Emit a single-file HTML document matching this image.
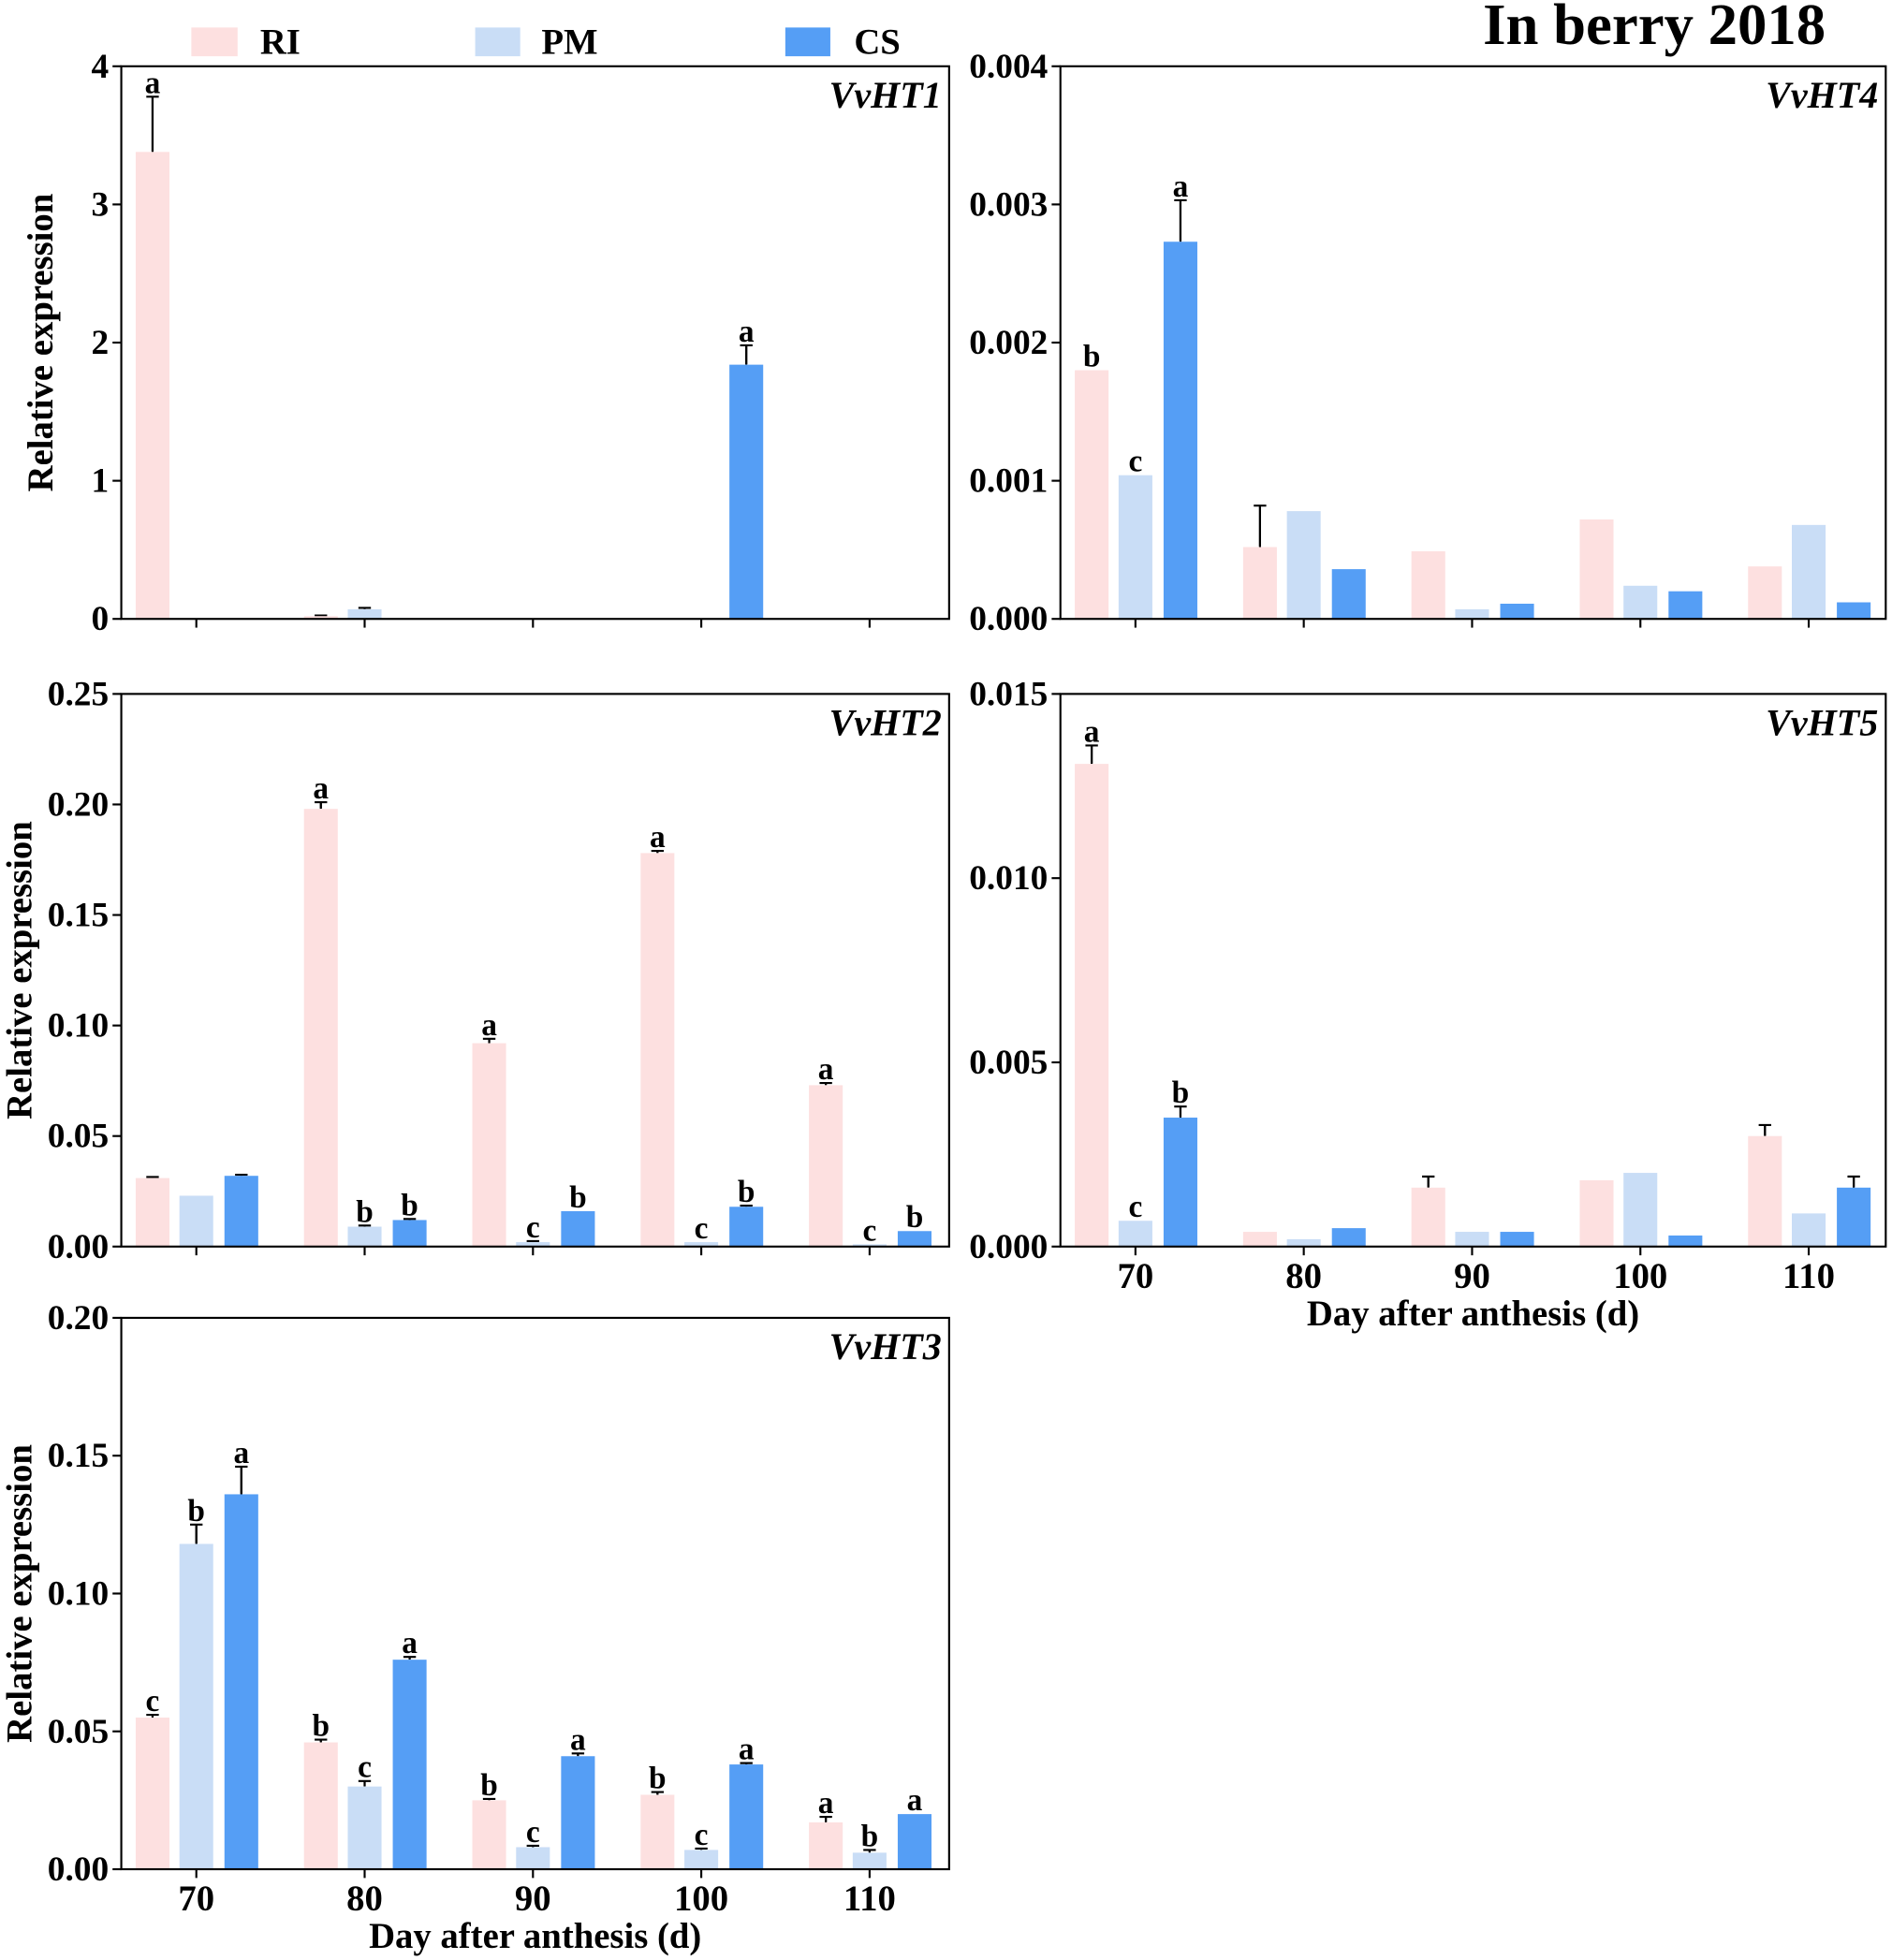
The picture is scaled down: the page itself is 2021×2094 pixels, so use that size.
<!DOCTYPE html>
<html><head><meta charset="utf-8"><style>
html,body{margin:0;padding:0;background:#fff}
svg{display:block}
text{font-family:"Liberation Serif",serif;font-weight:bold;fill:#000}
</style></head><body>
<svg id="chart" width="2021" height="2094" viewBox="0 0 1513 1567.6" preserveAspectRatio="none" xmlns="http://www.w3.org/2000/svg">
<g>
<rect x="153" y="22" width="37" height="23" fill="#fde0e0"/>
<text x="208" y="43" font-size="29">RI</text>
<rect x="380" y="22" width="36" height="23" fill="#c9ddf6"/>
<text x="433" y="43" font-size="29">PM</text>
<rect x="628" y="22" width="36" height="23" fill="#559ef5"/>
<text x="683" y="43" font-size="29">CS</text>
</g>
<text x="1460" y="35" font-size="47" text-anchor="end">In berry 2018</text>
</svg>
<script>
const categories = ["70","80","90","100","110"];
const ht1RI=[3.38,0.02,0,0,0.005], ht1PM=[0,0.07,0,0,0.005], ht1CS=[0,0,0,1.84,0.005];
const ht1ErrRI=[0.4,0.005,0,0,0], ht1ErrPM=[0,0.01,0,0,0], ht1ErrCS=[0,0,0,0.14,0];
const ht1LetRI=["a","","","",""], ht1LetPM=["","","","",""], ht1LetCS=["","","","a",""];
const ht1Ticks=["0","1","2","3","4"];
const ht4RI=[0.0018,0.00052,0.00049,0.00072,0.00038], ht4PM=[0.00104,0.00078,0.00007,0.00024,0.00068], ht4CS=[0.00273,0.00036,0.00011,0.0002,0.00012];
const ht4ErrRI=[0,0.0003,0,0,0], ht4ErrPM=[0,0,0,0,0], ht4ErrCS=[0.0003,0,0,0,0];
const ht4LetRI=["b","","","",""], ht4LetPM=["c","","","",""], ht4LetCS=["a","","","",""];
const ht4Ticks=["0.000","0.001","0.002","0.003","0.004"];
const ht2RI=[0.031,0.198,0.092,0.178,0.073], ht2PM=[0.023,0.009,0.002,0.002,0.001], ht2CS=[0.032,0.012,0.016,0.018,0.007];
const ht2ErrRI=[0.0005,0.003,0.002,0.001,0.001], ht2ErrPM=[0,0.0005,0.0005,0,0], ht2ErrCS=[0.0005,0.0005,0,0.0005,0];
const ht2LetRI=["","a","a","a","a"], ht2LetPM=["","b","c","c","c"], ht2LetCS=["","b","b","b","b"];
const ht2Ticks=["0.00","0.05","0.10","0.15","0.20","0.25"];
const ht5RI=[0.0131,0.0004,0.0016,0.0018,0.003], ht5PM=[0.0007,0.0002,0.0004,0.002,0.0009], ht5CS=[0.0035,0.0005,0.0004,0.0003,0.0016];
const ht5ErrRI=[0.0005,0,0.0003,0,0.0003], ht5ErrPM=[0,0,0,0,0], ht5ErrCS=[0.0003,0,0,0,0.0003];
const ht5LetRI=["a","","","",""], ht5LetPM=["c","","","",""], ht5LetCS=["b","","","",""];
const ht5Ticks=["0.000","0.005","0.010","0.015"];
const ht3RI=[0.055,0.046,0.025,0.027,0.017], ht3PM=[0.118,0.030,0.008,0.007,0.006], ht3CS=[0.136,0.076,0.041,0.038,0.020];
const ht3ErrRI=[0.001,0.001,0.0005,0.001,0.002], ht3ErrPM=[0.007,0.002,0.0005,0.0005,0.001], ht3ErrCS=[0.01,0.001,0.001,0.0005,0];
const ht3LetRI=["c","b","b","b","a"], ht3LetPM=["b","c","c","c","b"], ht3LetCS=["a","a","a","a","a"];
const ht3Ticks=["0.00","0.05","0.10","0.15","0.20"];

const NS="http://www.w3.org/2000/svg", svg=document.getElementById('chart');
function mk(tag,attrs,parent){const e=document.createElementNS(NS,tag);for(const k in attrs)e.setAttribute(k,attrs[k]);(parent||svg).appendChild(e);return e;}
const colors=["#fde0e0","#c9ddf6","#559ef5"], snames=["ri","pm","cs"];
function panel(id,gene,x0,x1,yTop,yBot,ticks,series,errs,lets,ylabelX,xlabels){
  const g=mk('g',{});
  
  
  const maxV=parseFloat(ticks[ticks.length-1]);
  const y=v=>yBot-(v/maxV)*(yBot-yTop);
  const xc=i=>x0+60+i*134.6;
  const offs=[-35,0,36], bw=27;
  series.forEach((s,si)=>{s.forEach((v,i)=>{
    const cx=xc(i)+offs[si];
    if(errs[si][i]>0){const l=mk('path',{d:`M${cx} ${y(v)}V${y(v+errs[si][i])}M${cx-5} ${y(v+errs[si][i])}H${cx+5}`,stroke:'#000','stroke-width':1.6,fill:'none'},g);
      
      }
    const r=mk('rect',{x:cx-bw/2,y:y(v),width:bw,height:Math.max(0,yBot-y(v)),fill:colors[si]},g);
    
    
    if(errs[si][i]>0){mk('line',{x1:cx,y1:y(v)-0.5,x2:cx,y2:y(v+errs[si][i]),stroke:'#000','stroke-width':1.6},g);}
    if(lets[si][i]){const t=mk('text',{x:cx,y:y(v+errs[si][i])-3,'font-size':25,'text-anchor':'middle'},g);t.textContent=lets[si][i];
      
      }
  });});
  const f=mk('rect',{x:x0,y:yTop,width:x1-x0,height:yBot-yTop,fill:'none',stroke:'#000','stroke-width':1.6},g);
  
  
  ticks.forEach(t=>{const ty=y(parseFloat(t));mk('line',{x1:x0-7,x2:x0,y1:ty,y2:ty,stroke:'#000','stroke-width':1.6},g);
    const tx=mk('text',{x:x0-10,y:ty+9,'font-size':28,'text-anchor':'end'},g);tx.textContent=t;
    
    });
  categories.forEach((c,i)=>{mk('line',{x1:xc(i),x2:xc(i),y1:yBot,y2:yBot+7,stroke:'#000','stroke-width':1.6},g);
    if(xlabels){const tx=mk('text',{x:xc(i),y:yBot+33,'font-size':29,'text-anchor':'middle'},g);tx.textContent=c;
      
      }});
  if(xlabels){const xt=mk('text',{x:(x0+x1)/2,y:yBot+63,'font-size':29,'text-anchor':'middle'},g);xt.textContent='Day after anthesis (d)';
    
    }
  if(ylabelX){const yl=mk('text',{x:0,y:0,'font-size':29,'text-anchor':'middle',transform:`translate(${ylabelX} ${(yTop+yBot)/2}) rotate(-90)`},g);yl.textContent='Relative expression';
    
    }
  const gl=mk('text',{x:x1-6,y:yTop+33,'font-size':30,'text-anchor':'end','font-style':'italic'},g);gl.textContent=gene;
  
  
}
panel('vvht1','VvHT1',97,759,53,495,ht1Ticks,[ht1RI,ht1PM,ht1CS],[ht1ErrRI,ht1ErrPM,ht1ErrCS],[ht1LetRI,ht1LetPM,ht1LetCS],42,false);
panel('vvht4','VvHT4',848,1508,53,495,ht4Ticks,[ht4RI,ht4PM,ht4CS],[ht4ErrRI,ht4ErrPM,ht4ErrCS],[ht4LetRI,ht4LetPM,ht4LetCS],0,false);
panel('vvht2','VvHT2',97,759,555,997,ht2Ticks,[ht2RI,ht2PM,ht2CS],[ht2ErrRI,ht2ErrPM,ht2ErrCS],[ht2LetRI,ht2LetPM,ht2LetCS],25,false);
panel('vvht5','VvHT5',848,1508,555,997,ht5Ticks,[ht5RI,ht5PM,ht5CS],[ht5ErrRI,ht5ErrPM,ht5ErrCS],[ht5LetRI,ht5LetPM,ht5LetCS],0,true);
panel('vvht3','VvHT3',97,759,1054,1495,ht3Ticks,[ht3RI,ht3PM,ht3CS],[ht3ErrRI,ht3ErrPM,ht3ErrCS],[ht3LetRI,ht3LetPM,ht3LetCS],25,true);
</script>
</body></html>
